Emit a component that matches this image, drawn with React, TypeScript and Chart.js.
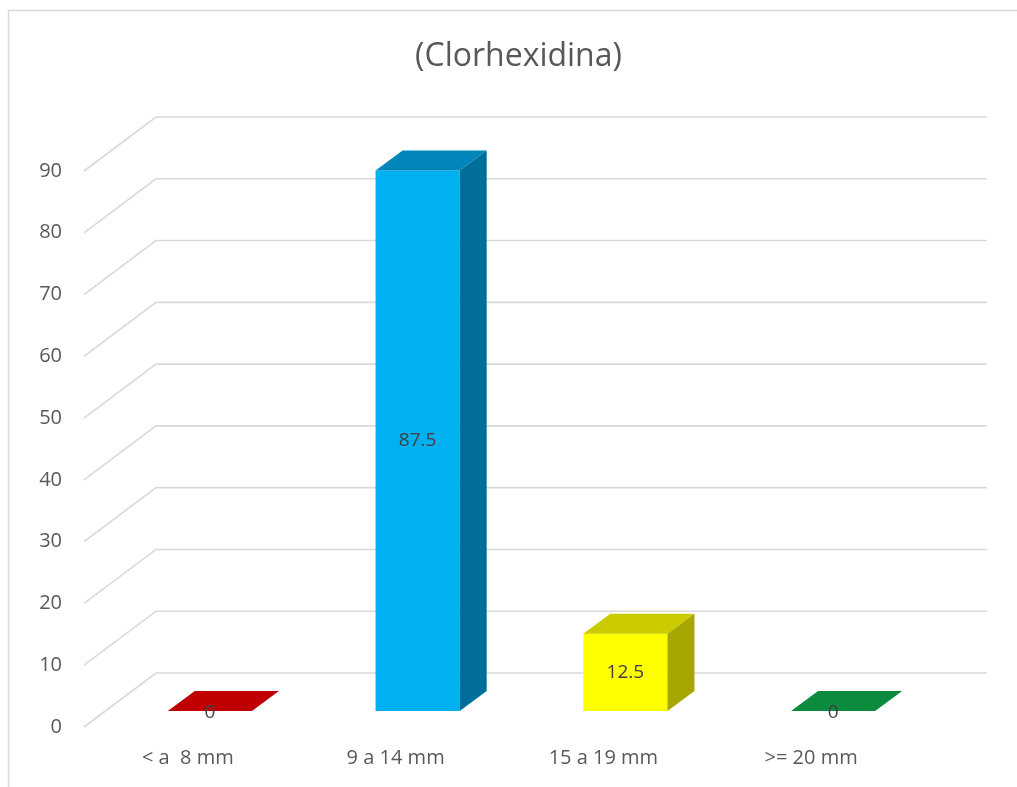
import React, { useEffect, useRef } from "react";
import { Chart, registerables } from "chart.js";

Chart.register(...registerables);

// Chart data
const categories = ["< a  8 mm", "9 a 14 mm", "15 a 19 mm", ">= 20 mm"];
const values = [0, 87.5, 12.5, 0];
const yMin = 0;
const yMax = 90;
const yStep = 10;
const title = "(Clorhexidina)";

// Face colours of each 3D column: front, top and right side
const frontColors = ["#FF0000", "#00B0F0", "#FFFF00", "#00B050"];
const topColors = ["#C00000", "#0086BA", "#CBCB00", "#0C8A3E"];
const sideColors = ["#A00000", "#006E99", "#A6A600", "#007A35"];

// Pseudo-3D geometry (pixel offsets relative to the plane of the column fronts)
const FRONT = { dx: -22, dy: 16 }; // axis plane where the ticks sit
const BACK = { dx: 50, dy: -38 }; // back wall
const DEPTH = { dx: 27, dy: -20 }; // column depth

const GRID_COLOR = "#D9D9D9";
const TEXT_COLOR = "#595959";
const FONT = "'Open Sans', 'Noto Sans', sans-serif";

const wallsPlugin = {
  id: "walls3d",
  beforeDraw(chart: any) {
    const { ctx, width, height } = chart;
    ctx.save();
    ctx.fillStyle = "#FFFFFF";
    ctx.fillRect(0, 0, width, height);
    // chart frame
    ctx.strokeStyle = GRID_COLOR;
    ctx.lineWidth = 1.5;
    ctx.beginPath();
    ctx.moveTo(8.5, height);
    ctx.lineTo(8.5, 10.5);
    ctx.lineTo(width, 10.5);
    ctx.stroke();
    // title, centred on the whole chart
    ctx.fillStyle = TEXT_COLOR;
    ctx.font = `32px ${FONT}`;
    ctx.textAlign = "center";
    ctx.textBaseline = "middle";
    ctx.fillText(title, width / 2 + 10, 57);
    ctx.restore();
  },
  beforeDatasetsDraw(chart: any) {
    const { ctx, chartArea } = chart;
    const yScale = chart.scales.y;
    ctx.save();
    ctx.strokeStyle = GRID_COLOR;
    ctx.lineWidth = 1.6;
    yScale.ticks.forEach((t: any) => {
      const y = yScale.getPixelForValue(t.value);
      ctx.beginPath();
      ctx.moveTo(chartArea.left + FRONT.dx, y + FRONT.dy);
      ctx.lineTo(chartArea.left + BACK.dx, y + BACK.dy);
      ctx.lineTo(chartArea.right + BACK.dx, y + BACK.dy);
      ctx.stroke();
    });
    ctx.restore();
  },
  afterDatasetsDraw(chart: any) {
    const { ctx } = chart;
    const meta = chart.getDatasetMeta(0);
    ctx.save();
    meta.data.forEach((bar: any, i: number) => {
      const { x, y, base, width } = bar.getProps(["x", "y", "base", "width"], true);
      const x1 = x - width / 2;
      const x2 = x + width / 2;
      // top face
      ctx.fillStyle = topColors[i];
      ctx.beginPath();
      ctx.moveTo(x1, y);
      ctx.lineTo(x2, y);
      ctx.lineTo(x2 + DEPTH.dx, y + DEPTH.dy);
      ctx.lineTo(x1 + DEPTH.dx, y + DEPTH.dy);
      ctx.closePath();
      ctx.fill();
      // right side face
      if (base - y > 0.5) {
        ctx.fillStyle = sideColors[i];
        ctx.beginPath();
        ctx.moveTo(x2, y);
        ctx.lineTo(x2 + DEPTH.dx, y + DEPTH.dy);
        ctx.lineTo(x2 + DEPTH.dx, base + DEPTH.dy);
        ctx.lineTo(x2, base);
        ctx.closePath();
        ctx.fill();
      }
    });
    // value labels in the middle of each column front
    ctx.fillStyle = "#404040";
    ctx.font = `19px ${FONT}`;
    ctx.textAlign = "center";
    ctx.textBaseline = "middle";
    meta.data.forEach((bar: any, i: number) => {
      const { x, y, base } = bar.getProps(["x", "y", "base"], true);
      ctx.fillText(String(values[i]), x, (y + base) / 2 + (base - y < 1 ? 2 : 0));
    });
    ctx.restore();
  },
};

export default function App() {
  const canvasRef = useRef<HTMLCanvasElement | null>(null);

  useEffect(() => {
    const canvas = canvasRef.current;
    if (!canvas) return;
    const chart = new Chart(canvas, {
      type: "bar",
      data: {
        labels: categories,
        datasets: [
          {
            data: values,
            backgroundColor: frontColors,
            borderWidth: 0,
            categoryPercentage: 1,
            barPercentage: 0.405,
          },
        ],
      },
      options: {
        animation: false,
        responsive: false,
        devicePixelRatio: 1,
        layout: { padding: { top: 155, right: 80, bottom: 0, left: 0 } },
        plugins: {
          legend: { display: false },
          tooltip: { enabled: false },
          title: { display: false },
        },
        scales: {
          x: {
            grid: { display: false, drawTicks: false },
            border: { display: false },
            ticks: {
              color: TEXT_COLOR,
              font: { family: FONT, size: 20 },
              padding: 35,
              labelOffset: FRONT.dx,
              maxRotation: 0,
            },
            afterFit: (scale: any) => {
              scale.height = 76;
            },
          },
          y: {
            min: yMin,
            max: yMax,
            grid: { display: false, drawTicks: false },
            border: { display: false },
            ticks: {
              stepSize: yStep,
              color: TEXT_COLOR,
              font: { family: FONT, size: 20 },
              padding: 44,
              labelOffset: FRONT.dy,
            },
            afterFit: (scale: any) => {
              scale.width = 106;
            },
          },
        },
      },
      plugins: [wallsPlugin],
    });
    return () => chart.destroy();
  }, []);

  return (
    <div style={{ position: "fixed", left: 0, top: 0, width: 1017, height: 787 }}>
      <canvas ref={canvasRef} width={1017} height={787} />
    </div>
  );
}
